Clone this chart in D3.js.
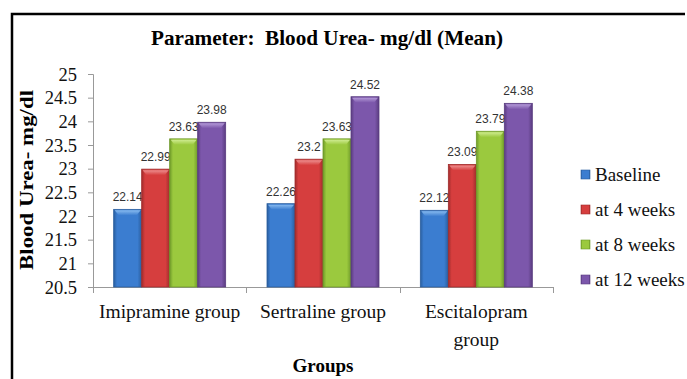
<!DOCTYPE html>
<html><head><meta charset="utf-8">
<script src="https://cdn.jsdelivr.net/npm/d3@7"></script>
<style>html,body{margin:0;padding:0;background:#fff;} svg text{font-family:"Liberation Serif","Times New Roman",serif;} svg text.lbl{font-family:"Liberation Sans",Arial,sans-serif;}</style>
</head><body>
<script>
const categories = ["Imipramine group", "Sertraline group", "Escitalopram group"];
const seriesNames = ["Baseline", "at 4 weeks", "at 8 weeks", "at 12 weeks"];
const baseline = [22.14, 22.26, 22.12];
const week4 = [22.99, 23.2, 23.09];
const week8 = [23.63, 23.63, 23.79];
const week12 = [23.98, 24.52, 24.38];
const yTicks = [20.5, 21, 21.5, 22, 22.5, 23, 23.5, 24, 24.5, 25];
const colors = ["#3b7dd0", "#d63e3e", "#9bc93e", "#7c57ab"];
const darks = ["#2a5e9e", "#a02c2c", "#6f9a2a", "#5a3c80"];
const lights = ["#8fc0f2", "#f09a9a", "#d4ef98", "#b9a0dc"];

const series = [baseline, week4, week8, week12];
const W = 687, H = 379;
const svg = d3.select("body").append("svg").attr("width", W).attr("height", H);

const defs = svg.append("defs");
colors.forEach((c, i) => {
  const g = defs.append("linearGradient").attr("id", "g" + i).attr("x1", 0).attr("x2", 1).attr("y1", 0).attr("y2", 0);
  g.append("stop").attr("offset", "0%").attr("stop-color", darks[i]);
  g.append("stop").attr("offset", "12%").attr("stop-color", c);
  g.append("stop").attr("offset", "85%").attr("stop-color", c);
  g.append("stop").attr("offset", "100%").attr("stop-color", darks[i]);
  const t = defs.append("linearGradient").attr("id", "t" + i).attr("x1", 0).attr("x2", 0).attr("y1", 0).attr("y2", 1);
  t.append("stop").attr("offset", "0%").attr("stop-color", lights[i]);
  t.append("stop").attr("offset", "100%").attr("stop-color", c);
});

// border
svg.append("path").attr("d", `M12,${H} V14 H685`).attr("fill", "none").attr("stroke", "#000").attr("stroke-width", 2.5);

const x0 = d3.scaleBand().domain(categories).range([93, 553]).paddingInner(0).paddingOuter(0);
const y = d3.scaleLinear().domain([20.5, 25]).range([287, 74]);
const barW = 28;

// title
svg.append("text").attr("x", 327).attr("y", 45).attr("text-anchor", "middle")
  .attr("font-weight", "bold").attr("font-size", 21).attr("textLength", 352).attr("lengthAdjust", "spacingAndGlyphs")
  .text("Parameter:  Blood Urea- mg/dl (Mean)").style("white-space", "pre");

// y axis
const yAxis = svg.append("g").attr("transform", "translate(93,0)")
  .call(d3.axisLeft(y).tickValues(yTicks).tickSize(5).tickPadding(11).tickFormat(d => d));
yAxis.attr("font-family", null);
yAxis.select(".domain").attr("stroke", "#999").attr("d", `M-5,74.5H0.5V287.5H-5`);
yAxis.selectAll(".tick line").attr("stroke", "#999");
yAxis.selectAll(".tick text").attr("font-size", 18.5).attr("fill", "#111").attr("dy", "0.34em");

// x axis
const xg = svg.append("g").attr("transform", "translate(0,287)");
xg.append("line").attr("x1", 93).attr("x2", 553).attr("y1", 0.5).attr("y2", 0.5).attr("stroke", "#999");
[93, ...categories.map(c => x0(c) + x0.bandwidth())].forEach(px => {
  xg.append("line").attr("x1", Math.round(px) + 0.5).attr("x2", Math.round(px) + 0.5).attr("y1", 0).attr("y2", 6).attr("stroke", "#999");
});
const catLines = [["Imipramine group"], ["Sertraline group"], ["Escitalopram", "group"]];
categories.forEach((c, i) => {
  const t = xg.append("text").attr("text-anchor", "middle").attr("font-size", 19.5).attr("fill", "#111");
  catLines[i].forEach((ln, j) => {
    t.append("tspan").attr("x", x0(c) + x0.bandwidth() / 2).attr("y", 31 + j * 28).text(ln);
  });
});

// axis titles
svg.append("text").attr("transform", "translate(33,180) rotate(-90)").attr("text-anchor", "middle")
  .attr("font-weight", "bold").attr("font-size", 19).attr("textLength", 180).attr("lengthAdjust", "spacingAndGlyphs")
  .text("Blood Urea- mg/dl");
svg.append("text").attr("x", 323).attr("y", 372).attr("text-anchor", "middle")
  .attr("font-weight", "bold").attr("font-size", 19).text("Groups");

// bars
const x1 = d3.scaleBand().domain(d3.range(4)).range([0, barW * 4]);
const groupOff = (x0.bandwidth() - barW * 4) / 2;
categories.forEach((c, ci) => {
  series.forEach((s, si) => {
    const bx = x0(c) + groupOff + x1(si);
    const by = y(s[ci]);
    const bh = y(20.5) - by;
    const g = svg.append("g");
    g.append("rect").attr("x", bx).attr("y", by).attr("width", barW).attr("height", bh)
      .attr("fill", `url(#g${si})`).attr("stroke", darks[si]).attr("stroke-width", 0.8);
    g.append("path").attr("d", `M${bx + 1},${by + 1} H${bx + barW - 1} L${bx + barW - 5},${by + 6} H${bx + 5} Z`)
      .attr("fill", `url(#t${si})`).attr("opacity", 0.9);
    svg.append("text").attr("class", "lbl").attr("x", bx + barW / 2).attr("y", by - 8).attr("text-anchor", "middle")
      .attr("font-size", 12).attr("fill", "#333")
      .text(s[ci]);
  });
});

// legend
seriesNames.forEach((n, i) => {
  const ly = 175 + i * 35;
  svg.append("rect").attr("x", 581).attr("y", ly - 5).attr("width", 9).attr("height", 9)
    .attr("fill", `url(#g${i})`).attr("stroke", darks[i]).attr("stroke-width", 0.6);
  svg.append("text").attr("x", 595).attr("y", ly + 6).attr("font-size", 19).attr("fill", "#111").text(n);
});
</script>
</body></html>
